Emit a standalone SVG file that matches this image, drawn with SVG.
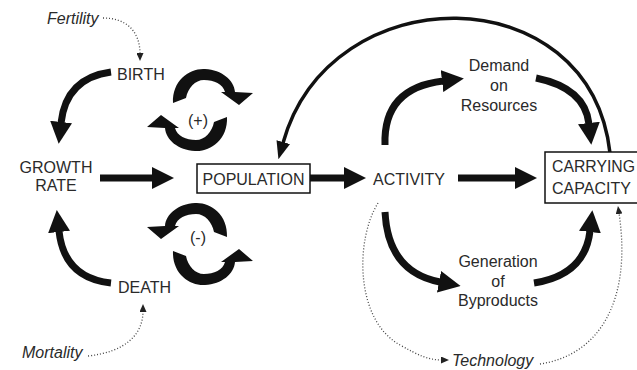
<svg xmlns="http://www.w3.org/2000/svg" width="637" height="370" viewBox="0 0 637 370">
<style>
text{font-family:"Liberation Sans",Arial,sans-serif;font-size:16px;fill:#2a2a2a}
.it{font-style:italic}
.thick{fill:none;stroke:#111;stroke-width:7}
.arc{fill:none;stroke:#111;stroke-width:3.5}
.dot{fill:none;stroke:#444;stroke-width:1.3;stroke-dasharray:1 2}
.box{fill:#fff;stroke:#111;stroke-width:1.5}
.sw{fill:#111}
</style>
<defs>
<marker id="ah" viewBox="0 0 22 22" refX="1" refY="11" markerWidth="22" markerHeight="22" markerUnits="userSpaceOnUse" orient="auto"><path d="M0,0 L22,11 L0,22 Z" fill="#111"/></marker>
<marker id="ahs" viewBox="0 0 18 14" refX="1" refY="7" markerWidth="18" markerHeight="14" markerUnits="userSpaceOnUse" orient="auto"><path d="M0,0 L18,7 L0,14 Z" fill="#111"/></marker>
<marker id="ahd" viewBox="0 0 8 7" refX="1" refY="3.5" markerWidth="8" markerHeight="7" markerUnits="userSpaceOnUse" orient="auto"><path d="M0,0 L8,3.5 L0,7 Z" fill="#222"/></marker>
<path id="swirl" d="M-27,-7 C-28,-30 -10,-42 5,-41 C22,-40 34,-30 35,-18 L53,-17 L39,-5 L21,-18 L25,-18 C23,-26 14,-30 4,-30 C-5,-30 -12,-22 -14,-12 Z"/>
</defs>
<g id="connectors">
<path class="thick" d="M100,178 L153,178" marker-end="url(#ah)"/>
<path class="thick" d="M310,178 L345,178" marker-end="url(#ah)"/>
<path class="thick" d="M458,178 L516,178" marker-end="url(#ah)"/>
<path class="thick" d="M111,72 Q66,78 61,123" marker-end="url(#ah)"/>
<path class="thick" d="M111,283 Q64,278 59,231" marker-end="url(#ah)"/>
<path class="thick" d="M385,145 Q383,88 443,81" marker-end="url(#ah)"/>
<path class="thick" d="M536,78 Q585,88 589,124" marker-end="url(#ah)"/>
<path class="thick" d="M385,212 Q388,272 440,282" marker-end="url(#ah)"/>
<path class="thick" d="M534,283 Q585,275 590,231" marker-end="url(#ah)"/>
<path class="arc" d="M610,153 C590,-25 330,-25 283,143" marker-end="url(#ahs)"/>
<path class="dot" d="M103,18 C125,18 140,30 140,54" marker-end="url(#ahd)"/>
<path class="dot" d="M88,356 C125,352 143,335 143,311" marker-end="url(#ahd)"/>
<path class="dot" d="M378,203 C355,240 355,320 400,345 C418,355 428,360 442,360" marker-end="url(#ahd)"/>
<path class="dot" d="M540,364 C600,355 632,300 619,213" marker-end="url(#ahd)"/>
<g id="loop-plus" class="sw">
<use href="#swirl" transform="translate(200,110)"/>
<use href="#swirl" transform="translate(200,110) rotate(180)"/>
</g>
<g id="loop-minus" class="sw">
<use href="#swirl" transform="translate(200,244) scale(-1,1)"/>
<use href="#swirl" transform="translate(200,244) scale(-1,1) rotate(180)"/>
</g>
</g>
<g id="fertility"><text class="it" x="47" y="24">Fertility</text></g>
<g id="birth"><text x="117" y="80">BIRTH</text></g>
<g id="growth-rate"><text x="56" y="173" text-anchor="middle">GROWTH</text><text x="56" y="191" text-anchor="middle">RATE</text></g>
<g id="population"><rect class="box" x="197" y="164" width="113" height="29"/><text x="253.5" y="185" text-anchor="middle">POPULATION</text></g>
<g id="activity"><text x="373" y="185">ACTIVITY</text></g>
<g id="carrying-capacity"><rect class="box" x="545" y="152" width="100" height="51"/><text x="552" y="172" textLength="83" lengthAdjust="spacingAndGlyphs">CARRYING</text><text x="552" y="194">CAPACITY</text></g>
<g id="demand"><text x="499" y="71" text-anchor="middle">Demand</text><text x="499" y="91" text-anchor="middle">on</text><text x="499" y="111" text-anchor="middle">Resources</text></g>
<g id="generation"><text x="498" y="267" text-anchor="middle">Generation</text><text x="498" y="287" text-anchor="middle">of</text><text x="498" y="306" text-anchor="middle">Byproducts</text></g>
<g id="death"><text x="118" y="293">DEATH</text></g>
<g id="mortality"><text class="it" x="22" y="358">Mortality</text></g>
<g id="technology"><text class="it" x="452" y="366">Technology</text></g>
<g id="plus"><text x="198" y="126" text-anchor="middle">(+)</text></g>
<g id="minus"><text x="198" y="243" text-anchor="middle">(-)</text></g>
</svg>
